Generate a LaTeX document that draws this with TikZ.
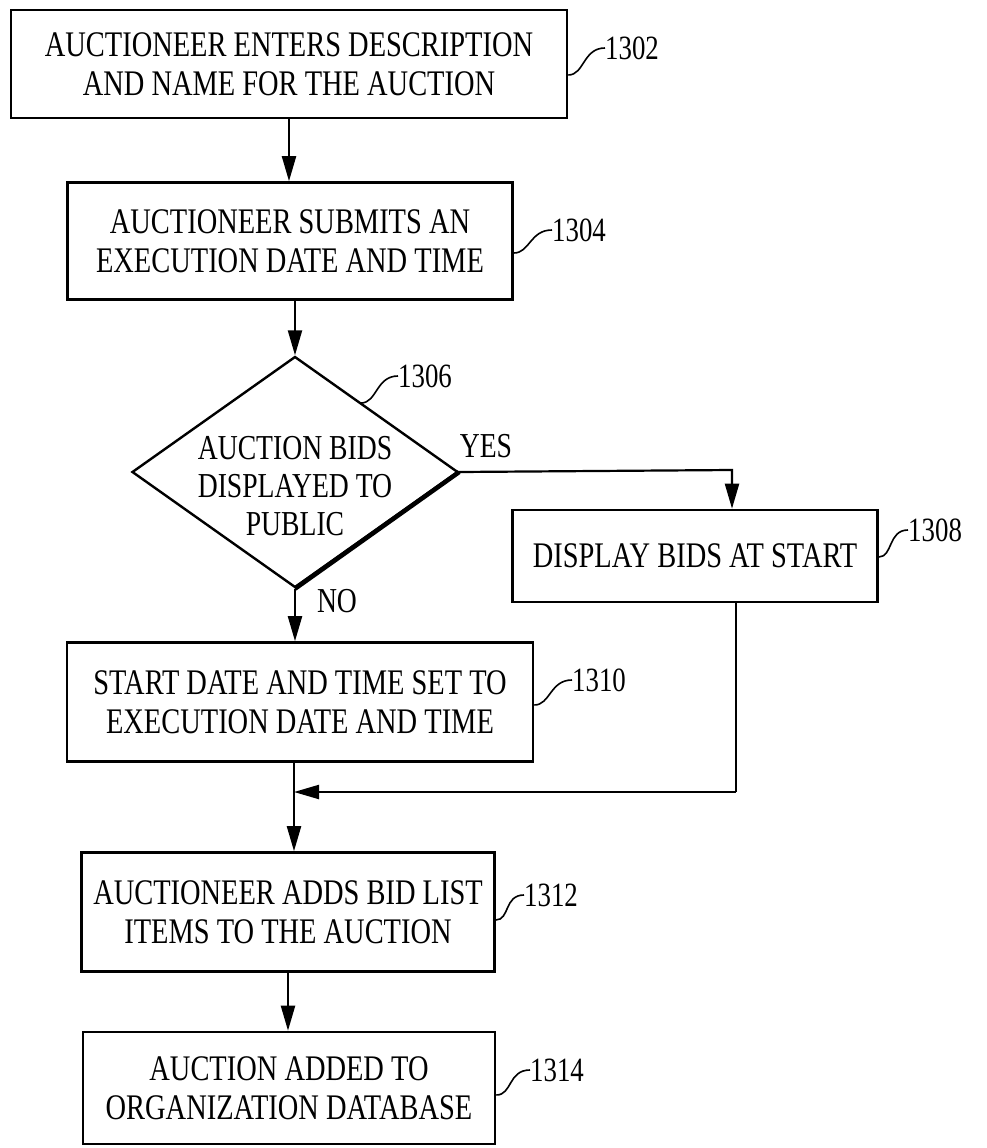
\documentclass[tikz,border=0pt]{standalone}
\usepackage{fontspec}
\setmainfont{Liberation Serif}[FakeStretch=0.79]
\usetikzlibrary{arrows.meta,shapes.geometric}
\begin{document}
\begin{tikzpicture}[x=1pt,y=-1pt,
  box/.style={draw, line width=2.6pt, rectangle, align=center, inner sep=0pt,
    font=\fontsize{36}{39}\selectfont},
  decision/.style={draw, line width=2.4pt, diamond, inner sep=0pt},
  txt/.style={align=center, inner sep=0pt, font=\fontsize{35}{38}\selectfont},
  yn/.style={inner sep=0pt, font=\fontsize{35}{35}\selectfont},
  refnum/.style={anchor=west, inner sep=0pt, font=\fontsize{34}{34}\selectfont},
  arr/.style={line width=2.2pt, -{Triangle[length=25pt,width=14pt]}},
  plain/.style={line width=2.2pt},
  lead/.style={line width=1.6pt}
]
\useasboundingbox (0,0) rectangle (987,1148);

% boxes
\node[box, minimum width=556pt, minimum height=108pt] (n1302) at (289,64)
  {AUCTIONEER ENTERS DESCRIPTION\\AND NAME FOR THE AUCTION};
\node[box, minimum width=445pt, minimum height=117pt] (n1304) at (290,241)
  {AUCTIONEER SUBMITS AN\\EXECUTION DATE AND TIME};
\node[decision, minimum width=326pt, minimum height=231pt] (d1306) at (295,472) {};
\node[txt] (t1306) at (295,486) {AUCTION BIDS\\DISPLAYED TO\\PUBLIC};
\node[box, minimum width=365pt, minimum height=92pt] (n1308) at (695,556)
  {DISPLAY BIDS AT START};
\node[box, minimum width=466pt, minimum height=119pt] (n1310) at (300,702)
  {START DATE AND TIME SET TO\\EXECUTION DATE AND TIME};
\node[box, minimum width=413pt, minimum height=119pt] (n1312) at (288,912)
  {AUCTIONEER ADDS BID LIST\\ITEMS TO THE AUCTION};
\node[box, minimum width=412pt, minimum height=112pt] (n1314) at (289,1088)
  {AUCTION ADDED TO\\ORGANIZATION DATABASE};

% thicker lower-right edge of the decision
\draw[line width=4.5pt] (d1306.east) -- (d1306.south);

% branch labels
\node[yn] (yes) at (486,446) {YES};
\node[yn] (no) at (337,601) {NO};

% connectors
\draw[arr] (n1302.south) -- (n1302.south |- n1304.north);
\draw[arr] (n1304.south -| d1306.north) -- (d1306.north);
\coordinate (ycorner) at (732,470);
\draw[arr] (d1306.east) -- (ycorner) -- (ycorner |- n1308.north);
\draw[arr] (d1306.south) -- (d1306.south |- n1310.north);
\coordinate (rdown) at (736,602);
\coordinate (rcorner) at (736,792);
\coordinate (merge) at (294,792);
\draw[plain] (rdown) -- (rcorner);
\draw[arr] (rcorner) -- (merge);
\draw[arr] (n1310.south -| merge) -- (merge |- n1312.north);
\draw[arr] (n1312.south) -- (n1312.south |- n1314.north);

% reference numerals with leader squiggles
\node[refnum] (l1302) at (605,48) {1302};
\node[refnum] (l1304) at (552,230) {1304};
\node[refnum] (l1306) at (398,376) {1306};
\node[refnum] (l1308) at (908,530) {1308};
\node[refnum] (l1310) at (572,680) {1310};
\node[refnum] (l1312) at (524,895) {1312};
\node[refnum] (l1314) at (530,1070) {1314};

\coordinate (s1306) at (361,403);
\draw[lead] ([yshift=-11pt]n1302.east) .. controls +(16,0) and +(-22,0) .. (l1302.west);
\draw[lead] ([yshift=-12pt]n1304.east) .. controls +(16,0) and +(-22,0) .. (l1304.west);
\draw[lead] (s1306) .. controls +(16,0) and +(-22,0) .. (l1306.west);
\draw[lead] ([yshift=-1pt]n1308.east) .. controls +(14,0) and +(-20,0) .. (l1308.west);
\draw[lead] ([yshift=-3pt]n1310.east) .. controls +(16,0) and +(-22,0) .. (l1310.west);
\draw[lead] ([yshift=-8pt]n1312.east) .. controls +(14,0) and +(-20,0) .. (l1312.west);
\draw[lead] ([yshift=-7pt]n1314.east) .. controls +(16,0) and +(-22,0) .. (l1314.west);
\end{tikzpicture}
\end{document}
